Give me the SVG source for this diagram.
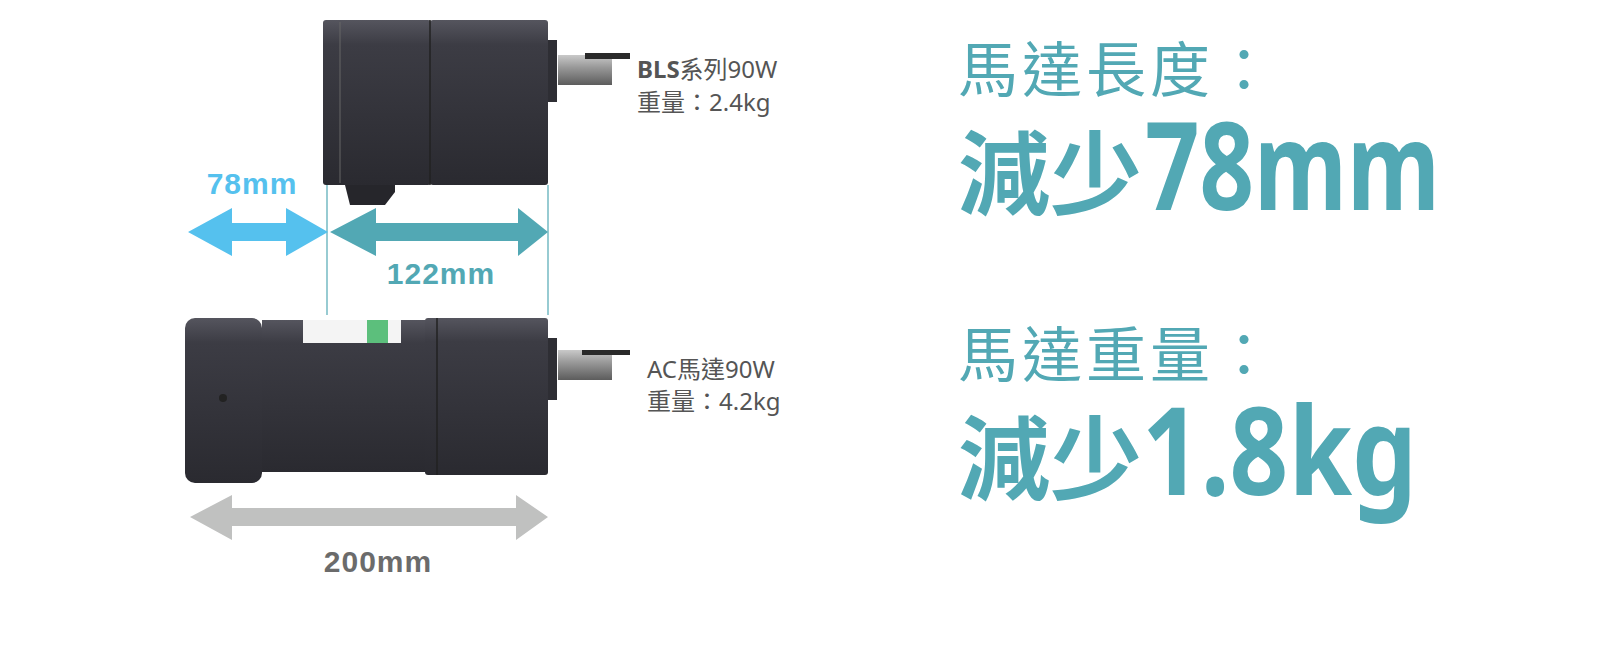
<svg xmlns="http://www.w3.org/2000/svg" width="1600" height="667" viewBox="0 0 1600 667">
<defs>
<linearGradient id="body" x1="0" y1="0" x2="0" y2="1"><stop offset="0" stop-color="#55555e"/><stop offset="0.15" stop-color="#3c3c44"/><stop offset="1" stop-color="#2a2a30"/></linearGradient>
<linearGradient id="shaft" x1="0" y1="0" x2="0" y2="1"><stop offset="0" stop-color="#c9c9c9"/><stop offset="0.4" stop-color="#9a9a9a"/><stop offset="1" stop-color="#5c5c5c"/></linearGradient>
<style>
.dim{font-family:"Liberation Sans",Arial,sans-serif;font-weight:bold;font-size:30px;letter-spacing:1px}
.lab{font-family:"Noto Sans","Noto Sans CJK TC",sans-serif;font-size:24px;fill:#555}
.big{font-family:"Noto Sans","Noto Sans CJK TC",sans-serif;fill:#52a8b4}
</style>
</defs>
<rect width="1600" height="667" fill="#fff"/>
<g id="bls-motor">
<rect x="558" y="55" width="54" height="30" fill="url(#shaft)"/>
<rect x="585" y="53" width="45" height="6" fill="#2a2a2a"/>
<rect x="548" y="40" width="9" height="62" fill="#2e2e34"/>
<path d="M345 185 H395 V192 L385 205 H350 Z" fill="#26262b"/>
<rect x="323" y="20" width="108" height="165" rx="3" fill="url(#body)"/>
<rect x="430" y="20" width="118" height="165" rx="3" fill="url(#body)"/>
<line x1="430" y1="20" x2="430" y2="185" stroke="#222" stroke-width="1.5"/>
<line x1="340" y1="22" x2="340" y2="183" stroke="#666" stroke-width="1"/>
</g>
<g id="ac-motor">
<rect x="558" y="350" width="54" height="30" fill="url(#shaft)"/>
<rect x="582" y="350" width="48" height="5" fill="#2a2a2a"/>
<rect x="548" y="338" width="9" height="62" fill="#2e2e34"/>
<rect x="262" y="320" width="166" height="152" fill="url(#body)"/>
<rect x="185" y="318" width="77" height="165" rx="10" fill="url(#body)"/>
<rect x="425" y="318" width="123" height="157" rx="3" fill="url(#body)"/>
<line x1="437" y1="318" x2="437" y2="475" stroke="#222" stroke-width="1.5"/>
<rect x="303" y="320" width="98" height="23" fill="#f4f4f4"/>
<rect x="367" y="320" width="21" height="23" fill="#5cbf7c"/>
<circle cx="223" cy="398" r="4" fill="#222"/>
</g>
<g id="connectors">
<line x1="327" y1="185" x2="327" y2="315" stroke="#52a8b4" stroke-width="1.2"/>
<line x1="548" y1="185" x2="548" y2="315" stroke="#52a8b4" stroke-width="1.2"/>
<polygon points="188,232 232,208 232,223 286,223 286,208 328,232 286,256 286,241 232,241 232,256" fill="#55c1ee"/>
<polygon points="330,232 376,208 376,223 518,223 518,208 548,232 518,256 518,241 376,241 376,256" fill="#52a8b4"/>
<polygon points="190,517 232,495 232,508 516,508 516,495 548,517 516,540 516,526 232,526 232,540" fill="#c0c1c0"/>
</g>
<g id="labels">
<text class="dim" x="252" y="194" text-anchor="middle" fill="#55c1ee">78mm</text>
<text class="dim" x="441" y="284" text-anchor="middle" fill="#52a8b4">122mm</text>
<text class="dim" x="378" y="572" text-anchor="middle" fill="#6b6b6b">200mm</text>
<text class="lab" x="637" y="78"><tspan font-weight="bold">BLS</tspan>系列90W</text>
<text class="lab" x="637" y="111">重量：2.4kg</text>
<text class="lab" x="647" y="378">AC馬達90W</text>
<text class="lab" x="647" y="410">重量：4.2kg</text>
<text class="big" x="958" y="92" font-size="60" letter-spacing="4">馬達長度：</text>
<text class="big" x="958" y="208" font-weight="bold" font-size="92">減少</text>
<text class="big" x="1145" y="210" font-weight="bold" font-size="122" textLength="295" lengthAdjust="spacingAndGlyphs">78mm</text>
<text class="big" x="958" y="377" font-size="60" letter-spacing="4">馬達重量：</text>
<text class="big" x="958" y="493" font-weight="bold" font-size="92">減少</text>
<text class="big" x="1142" y="495" font-weight="bold" font-size="122" textLength="275" lengthAdjust="spacingAndGlyphs">1.8kg</text>
</g>
</svg>
